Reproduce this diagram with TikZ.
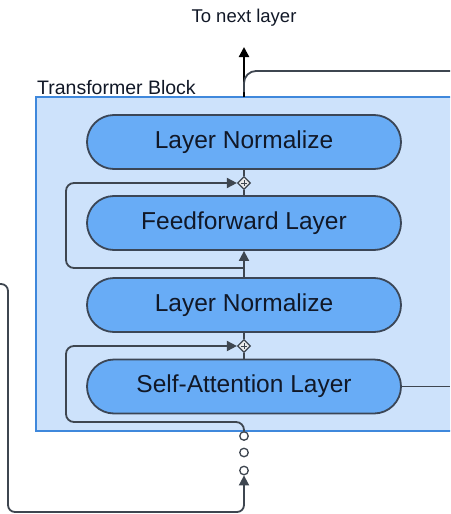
\documentclass[tikz,border=0pt]{standalone}
\usepackage{fontspec}
\setmainfont{Liberation Sans}
\usetikzlibrary{arrows.meta,shapes.geometric}
\definecolor{boxfill}{HTML}{CDE2FB}
\definecolor{boxline}{HTML}{3F88DC}
\definecolor{pillfill}{HTML}{68ACF6}
\definecolor{pillline}{HTML}{3B4656}
\definecolor{conn}{HTML}{3E4650}
\definecolor{txt}{HTML}{111827}
\tikzset{
  pill/.style={draw=pillline, fill=pillfill, line width=1.8pt, rounded corners=27pt,
    minimum width=314pt, minimum height=54pt, inner sep=0pt, text=txt,
    font=\fontsize{24.5}{28}\selectfont},
  conn/.style={draw=conn, line width=1.8pt, rounded corners=8pt},
  tip/.style={-{Triangle[length=10pt,width=10pt]}},
  addnode/.style={diamond, draw=conn, fill=white!92!black, line width=1.2pt,
    minimum size=13pt, inner sep=0pt},
  dot/.style={circle, draw=conn, fill=white, line width=1.3pt, minimum size=8.5pt, inner sep=0pt},
  lbl/.style={text=txt, inner sep=0pt}
}
\begin{document}
\begin{tikzpicture}[x=1pt,y=-1pt]
\clip (0,0) rectangle (450,514);
\fill[white] (0,0) rectangle (450,514);
% block
\draw[fill=boxfill, draw=boxline, line width=2pt] (36,97) rectangle (460,431);
\node[lbl, anchor=base west, font=\fontsize{19.5}{22}\selectfont] (tb) at (37,94) {Transformer Block};
\node[lbl, font=\fontsize{18.5}{22}\selectfont] (next) at (244,18) {To next layer};
% pills
\node[pill] (ln1) at (244,142) {Layer Normalize};
\node[pill] (ff)  at (244,223) {Feedforward Layer};
\node[pill] (ln2) at (244,305) {Layer Normalize};
\node[pill] (sa)  at (244,386.5) {Self-Attention Layer};
% adders
\node[addnode] (p1) at (244,183) {};
\node[addnode] (p2) at (244,346) {};
\foreach \p in {p1,p2}{
  \draw[conn, line width=0.9pt] ([xshift=-2.6pt]\p.center) -- ([xshift=2.6pt]\p.center);
  \draw[conn, line width=0.9pt] ([yshift=-2.6pt]\p.center) -- ([yshift=2.6pt]\p.center);
}
% dots
\node[dot] (c1) at (244,436) {};
\node[dot] (c2) at (244,452.5) {};
\node[dot] (c3) at (244,470.5) {};
% coordinates
\coordinate (top) at (244,97);
\coordinate (s1) at (244,268);
\coordinate (right1) at (450,71);
\coordinate (saout) at (450,386.5);
\coordinate (inl) at (0,284);
% connectors
\draw[conn] (ln1.south) -- (p1.north);
\draw[conn] (p1.south) -- (ff.north);
\draw[conn] (ln2.south) -- (p2.north);
\draw[conn] (p2.south) -- (sa.north);
\draw[conn, tip] (ln2.north) -- (ff.south);
\draw[conn, tip] (s1) -- (66,268) -- (66,183) -- (p1.west);
\draw[conn, tip] (c1.north) -- (244,422) -- (66,422) -- (66,346) -- (p2.west);
\draw[conn] (sa.east) -- (saout);
\draw[draw=black, line width=2.2pt, -{Triangle[length=10pt,width=10pt]}] (top) -- (244,47);
\draw[conn, rounded corners=12pt] (244,92) -- (244,71) -- (right1);
\draw[conn, tip, rounded corners=7pt] (inl) -- (8,284) -- (8,512) -- (244,512) -- (c3.south);
\end{tikzpicture}
\end{document}
